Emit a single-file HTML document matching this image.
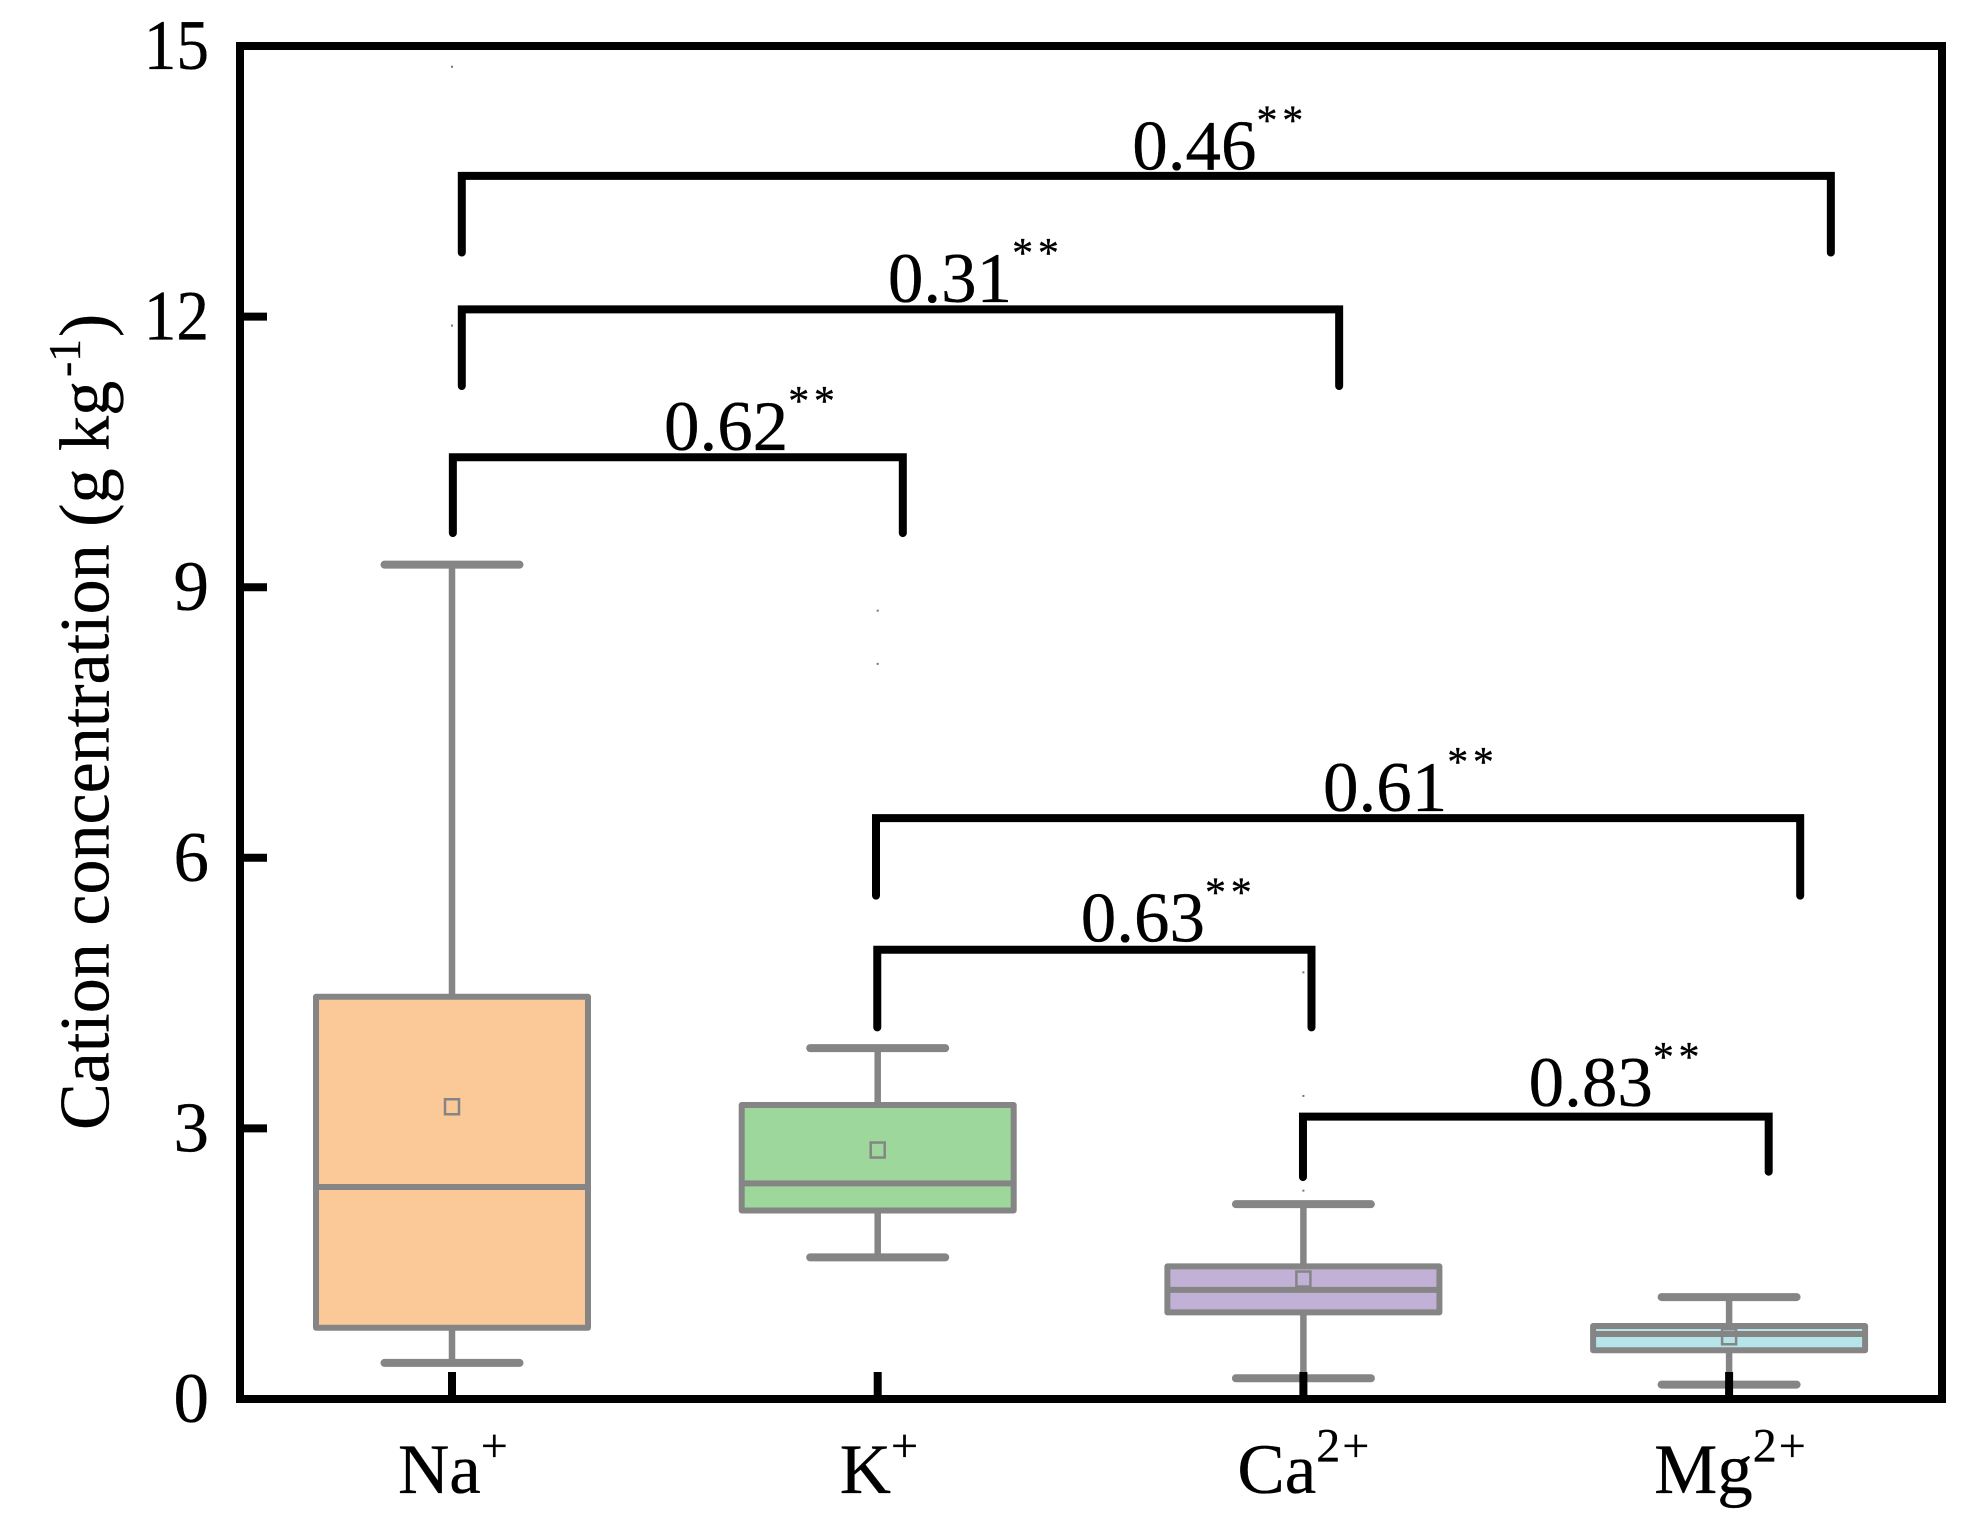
<!DOCTYPE html>
<html lang="en">
<head>
<meta charset="utf-8">
<title>Cation concentration box plot</title>
<style>
html,body{margin:0;padding:0;background:#fff;}
svg{display:block;}
text{font-family:"Liberation Serif",serif;fill:#000;stroke:#000;stroke-width:0.3px;}
</style>
</head>
<body>
<svg id="chart" xmlns="http://www.w3.org/2000/svg" width="1975" height="1531" viewBox="0 0 1975 1531">
  <rect x="0" y="0" width="1975" height="1531" fill="#fff" stroke="none"/>
  <g id="outliers"></g>
  <g id="boxes"></g>
  <g id="brackets"></g>
  <g id="ticks"></g>
  <rect x="240" y="46" width="1702" height="1353" fill="none" stroke="#000" stroke-width="8"/>
  <text transform="translate(108.5,1130) rotate(-90) scale(0.987,1)" font-size="71">Cation concentration (g kg<tspan dx="4" dy="-28.5" font-size="46">-1</tspan><tspan dx="2" dy="28.5">)</tspan></text>
</svg>
<script>
// Chart data
var categories = ['Na', 'K', 'Ca', 'Mg'];
var chargeLabels = ['+', '+', '2+', '2+'];
var whiskerHigh = [9.25, 3.89, 2.16, 1.13];
var quartile3 = [4.46, 3.26, 1.47, 0.81];
var medians = [2.35, 2.39, 1.21, 0.72];
var quartile1 = [0.79, 2.09, 0.96, 0.54];
var whiskerLow = [0.40, 1.57, 0.23, 0.16];
var means = [3.24, 2.76, 1.33, 0.69];
var fillColors = ['#FBC898', '#9ED79B', '#C1B1D6', '#B6E5E9'];
var outlierCategory = [0, 0, 1, 1, 2, 2, 2];
var outlierValues = [14.77, 11.9, 8.74, 8.15, 4.73, 3.36, 2.31];
var yTickLabels = [0, 3, 6, 9, 12, 15];

// Correlation annotations, expressed on the axes
var corrLabels = ['0.46', '0.31', '0.62', '0.61', '0.63', '0.83'];
var bracketLeft = [0.023, 0.023, 0.002, 0.996, 0.999, 1.999];
var bracketRight = [3.239, 2.084, 1.059, 3.167, 2.019, 3.093];
var bracketTop = [13.56, 12.08, 10.44, 6.44, 4.98, 3.13];
var bracketLeftEnd = [12.71, 11.23, 9.60, 5.58, 4.12, 2.46];
var bracketRightEnd = [12.71, 11.23, 9.60, 5.58, 4.12, 2.52];
var corrLabelCat = [1.598, 1.024, 0.498, 2.046, 1.477, 2.529];
var corrLabelValue = [13.63, 12.16, 10.52, 6.52, 5.07, 3.25];

// Axis functions
function xScale(c) { return 452 + 425.7 * c; }
function yScale(v) { return 1399 - 90.2 * v; }

var NS = 'http://www.w3.org/2000/svg';
var GREY = '#858585';
function make(tag, attrs, parent, txt) {
  var n = document.createElementNS(NS, tag);
  for (var k in attrs) { n.setAttribute(k, attrs[k]); }
  if (txt !== undefined) { n.textContent = txt; }
  parent.appendChild(n);
  return n;
}

var outlierGroup = document.getElementById('outliers');
var boxGroup = document.getElementById('boxes');
var bracketGroup = document.getElementById('brackets');
var tickGroup = document.getElementById('ticks');
var svgRoot = document.getElementById('chart');

outlierValues.forEach(function (v, i) {
  var p = make('rect', {x: xScale(outlierCategory[i]) - 1, y: yScale(v) - 1, width: 2, height: 2, fill: '#777'}, outlierGroup);
  
  
});

categories.forEach(function (cat, i) {
  var cx = xScale(i);
  var halfBox = 136, halfCap = 71.5;
  var g = make('g', {}, boxGroup);
  
  

  var whiskerUp = make('line', {x1: cx, x2: cx, y1: yScale(whiskerHigh[i]), y2: yScale(quartile3[i]) + 3, stroke: GREY, 'stroke-width': 6.5}, g);
  
  

  var whiskerDown = make('line', {x1: cx, x2: cx, y1: yScale(quartile1[i]) - 3, y2: yScale(whiskerLow[i]), stroke: GREY, 'stroke-width': 6.5}, g);
  
  

  var capUp = make('line', {x1: cx - halfCap + 4, x2: cx + halfCap - 4, y1: yScale(whiskerHigh[i]), y2: yScale(whiskerHigh[i]), stroke: GREY, 'stroke-width': 8, 'stroke-linecap': 'round'}, g);
  
  

  var capDown = make('line', {x1: cx - halfCap + 4, x2: cx + halfCap - 4, y1: yScale(whiskerLow[i]), y2: yScale(whiskerLow[i]), stroke: GREY, 'stroke-width': 8, 'stroke-linecap': 'round'}, g);
  
  

  var box = make('rect', {x: cx - halfBox, y: yScale(quartile3[i]), width: 2 * halfBox, height: yScale(quartile1[i]) - yScale(quartile3[i]), fill: fillColors[i], stroke: GREY, 'stroke-width': 6, 'stroke-linejoin': 'round'}, g);
  
  

  var med = make('line', {x1: cx - halfBox, x2: cx + halfBox, y1: yScale(medians[i]), y2: yScale(medians[i]), stroke: GREY, 'stroke-width': 6}, g);
  
  

  var mean = make('rect', {x: cx - 7, y: yScale(means[i]) - 7.5, width: 14, height: 15, fill: 'none', stroke: GREY, 'stroke-width': 2.5}, g);
  
  

  var xt = make('line', {x1: cx, x2: cx, y1: 1399, y2: 1372, stroke: '#000', 'stroke-width': 8}, tickGroup);
  
  

  var labelOffset = [-54, -38, -66, -75][i];
  var lab = make('text', {x: cx + labelOffset, y: 1493, 'font-size': 71}, svgRoot, cat);
  
  
  make('tspan', {dy: -31.5, 'font-size': 48, 'letter-spacing': 2}, lab, chargeLabels[i]);
});

yTickLabels.forEach(function (v) {
  var y = yScale(v);
  if (v > 0 && v < 15) {
    var t = make('line', {x1: 240, x2: 267, y1: y, y2: y, stroke: '#000', 'stroke-width': 8}, tickGroup);
    
    
  }
  var widthScale = v >= 10 ? 0.92 : 1;
  var lab = make('text', {transform: 'translate(209,' + (y + 23) + ') scale(' + widthScale + ',1)', 'font-size': 71, 'text-anchor': 'end'}, svgRoot, String(v));
  
  
});

corrLabels.forEach(function (txt, i) {
  var xl = xScale(bracketLeft[i]), xr = xScale(bracketRight[i]), yt = yScale(bracketTop[i]);
  var d = 'M' + xl + ' ' + yScale(bracketLeftEnd[i]) + ' V' + yt + ' H' + xr + ' V' + yScale(bracketRightEnd[i]);
  var br = make('path', {d: d, fill: 'none', stroke: '#000', 'stroke-width': 8, 'stroke-linecap': 'round', 'stroke-linejoin': 'miter'}, bracketGroup);
  
  

  var lab = make('text', {x: xScale(corrLabelCat[i]), y: yScale(corrLabelValue[i]), 'font-size': 71}, bracketGroup, txt);
  
  
  make('tspan', {dy: -35, 'font-size': 42, 'letter-spacing': 4.7}, lab, '**');
});
</script>
</body>
</html>
